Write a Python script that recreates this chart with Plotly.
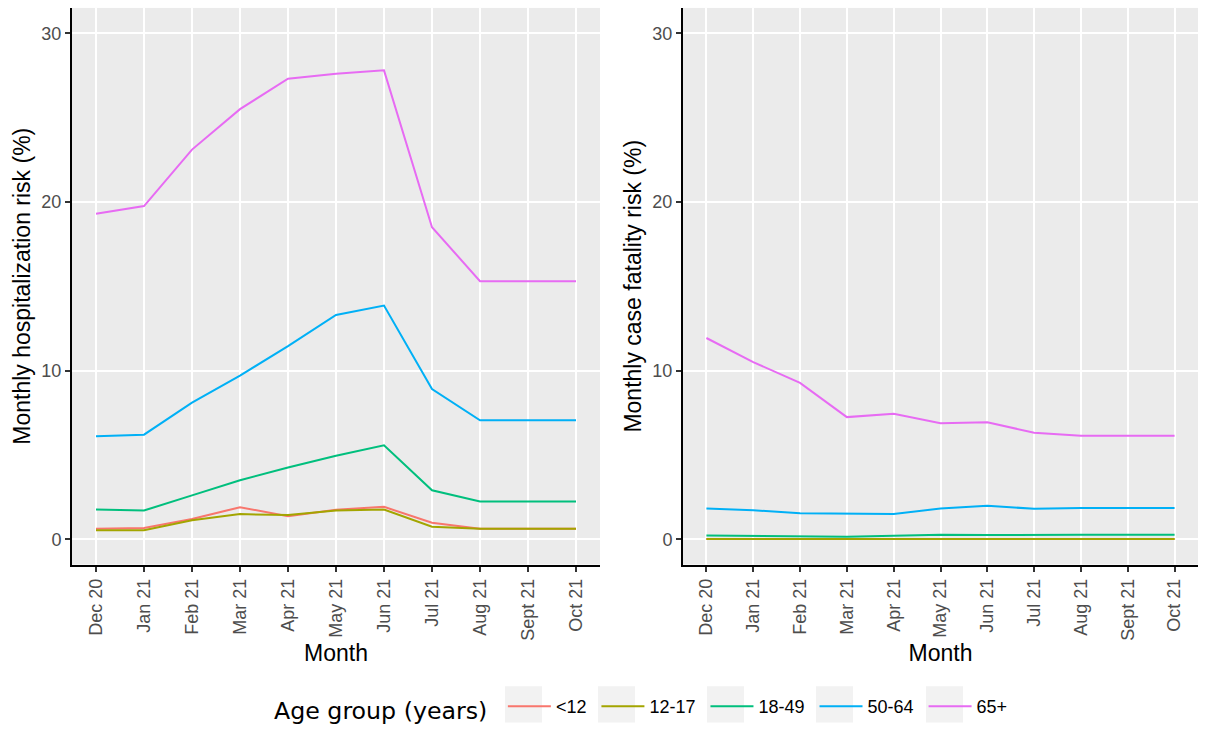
import plotly.graph_objects as go
from plotly.subplots import make_subplots

months = ["Dec 20", "Jan 21", "Feb 21", "Mar 21", "Apr 21", "May 21", "Jun 21",
          "Jul 21", "Aug 21", "Sept 21", "Oct 21"]
groups = ["<12", "12-17", "18-49", "50-64", "65+"]
colors = ["#F8766D", "#A3A500", "#00BF7D", "#00B0F6", "#E76BF3"]

hosp_lt12 = [0.62, 0.66, 1.2, 1.9, 1.37, 1.75, 1.92, 0.98, 0.62, 0.62, 0.62]
hosp_12_17 = [0.53, 0.53, 1.13, 1.49, 1.43, 1.7, 1.76, 0.74, 0.62, 0.62, 0.62]
hosp_18_49 = [1.76, 1.7, 2.6, 3.5, 4.25, 4.95, 5.57, 2.9, 2.24, 2.24, 2.24]
hosp_50_64 = [6.1, 6.2, 8.1, 9.7, 11.45, 13.3, 13.85, 8.9, 7.05, 7.05, 7.05]
hosp_65 = [19.3, 19.75, 23.1, 25.5, 27.3, 27.6, 27.8, 18.5, 15.3, 15.3, 15.3]

cfr_lt12 = [0.01, 0.01, 0.01, 0.01, 0.01, 0.01, 0.01, 0.01, 0.01, 0.01, 0.01]
cfr_12_17 = [0.02, 0.02, 0.02, 0.02, 0.02, 0.02, 0.02, 0.02, 0.02, 0.02, 0.02]
cfr_18_49 = [0.22, 0.2, 0.2, 0.15, 0.2, 0.26, 0.25, 0.24, 0.27, 0.27, 0.27]
cfr_50_64 = [1.82, 1.72, 1.54, 1.54, 1.5, 1.82, 1.99, 1.8, 1.85, 1.85, 1.85]
cfr_65 = [11.93, 10.5, 9.27, 7.24, 7.44, 6.88, 6.94, 6.31, 6.14, 6.14, 6.14]

hosp = [hosp_lt12, hosp_12_17, hosp_18_49, hosp_50_64, hosp_65]
cfr = [cfr_lt12, cfr_12_17, cfr_18_49, cfr_50_64, cfr_65]

y_ticks = [0, 10, 20, 30]

fig = make_subplots(rows=1, cols=2)
for i, g in enumerate(groups):
    fig.add_trace(go.Scatter(x=months, y=hosp[i], mode="lines", name=g + "\u00a0",
                             line=dict(color=colors[i], width=2),
                             legendgroup=g, showlegend=True), row=1, col=1)
    fig.add_trace(go.Scatter(x=months, y=cfr[i], mode="lines", name=g + "\u00a0",
                             line=dict(color=colors[i], width=2),
                             legendgroup=g, showlegend=False), row=1, col=2)

W, H = 1207, 729
ydom = [1 - 570 / H, 1 - 8 / H]
SANS = "Liberation Sans, Arial, sans-serif"
axis_font = dict(family=SANS, size=18, color="#4D4D4D")
title_font = dict(family=SANS, size=23, color="black")

common_x = dict(type="category", categoryorder="array", categoryarray=months,
                range=[-0.5, 10.5], tickangle=-90, tickfont=axis_font,
                showgrid=True, gridcolor="white", gridwidth=1.8,
                showline=True, linecolor="black", linewidth=2,
                ticks="outside", ticklen=5, tickcolor="#333333", tickwidth=1.5,
                zeroline=False, title=dict(text="Month", font=title_font, standoff=5))
common_y = dict(range=[-1.5, 31.5], tickvals=y_ticks, tickfont=axis_font,
                showgrid=True, gridcolor="white", gridwidth=1.8,
                showline=True, linecolor="black", linewidth=2,
                ticks="outside", ticklen=5, tickcolor="#333333", tickwidth=1.5,
                zeroline=False, domain=ydom)

fig.update_xaxes(**common_x)
fig.update_yaxes(**common_y)
fig.update_xaxes(domain=[72 / W, 600 / W], row=1, col=1)
fig.update_xaxes(domain=[683 / W, 1198 / W], row=1, col=2)
fig.update_yaxes(title=dict(text="Monthly hospitalization risk (%)", font=title_font, standoff=4), row=1, col=1)
fig.update_yaxes(title=dict(text="Monthly case fatality risk (%)", font=title_font, standoff=4), row=1, col=2)

# light grey legend-key backgrounds (ggplot theme decoration)
key_left = [505, 598, 707, 816, 926]
for kx in key_left:
    fig.add_shape(type="rect", xref="paper", yref="paper",
                  x0=kx / W, x1=(kx + 37) / W, y0=1 - 729.5 / H, y1=1 - 693 / H,
                  fillcolor="#F2F2F2", line=dict(width=0), layer="above")

fig.update_layout(
    width=W, height=H,
    margin=dict(l=0, r=0, t=0, b=0),
    paper_bgcolor="white",
    plot_bgcolor="#EBEBEB",
    font=dict(family=SANS),
    legend=dict(orientation="h", x=272 / W, xanchor="left", y=1 - 715.5 / H, yanchor="middle",
                title=dict(text="Age group (years) ",
                           font=dict(family="DejaVu Sans, sans-serif", size=23.7, color="black")),
                font=dict(family=SANS, size=18, color="black"), itemwidth=43,
                bgcolor="rgba(0,0,0,0)"),
)

fig.write_html("out.html")
